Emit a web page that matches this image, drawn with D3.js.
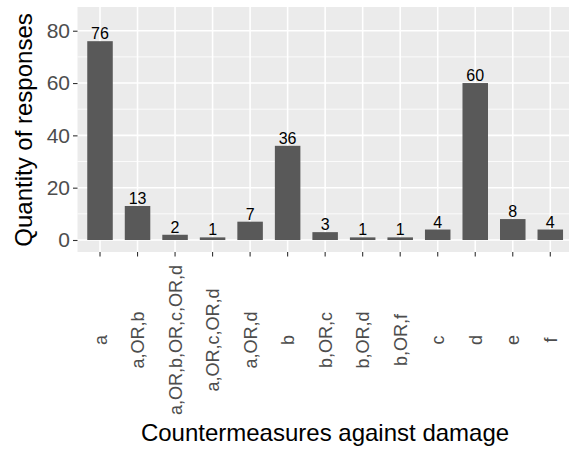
<!DOCTYPE html>
<html>
<head>
<meta charset="utf-8">
<script src="https://cdn.jsdelivr.net/npm/d3@7"></script>
<style>
  body { margin: 0; background: #fff; }
  svg { display: block; font-family: "Liberation Sans", Arial, sans-serif; }
</style>
</head>
<body>
<div id="chart"></div>
<script>
// Data
const categories = ["a", "a,OR,b", "a,OR,b,OR,c,OR,d", "a,OR,c,OR,d", "a,OR,d", "b",
  "b,OR,c", "b,OR,d", "b,OR,f", "c", "d", "e", "f"];
const counts = [76, 13, 2, 1, 7, 36, 3, 1, 1, 4, 60, 8, 4];
const yTicks = [0, 20, 40, 60, 80];
const yMinor = [10, 30, 50, 70];

const W = 569, H = 454;
// Panel box
const panel = { left: 77.5, right: 572.8, top: 7, bottom: 252 };

const svg = d3.select("#chart").append("svg")
  .attr("width", W)
  .attr("height", H);

// discrete axis with ggplot style 0.6 expansion
const x = d3.scaleLinear()
  .domain([0.4, categories.length + 0.6])
  .range([panel.left, panel.right]);

const y = d3.scaleLinear()
  .domain([-4.59, 89.07])
  .range([panel.bottom, panel.top]);

const barW = 0.68;

// panel background
svg.append("rect")
  .attr("x", panel.left)
  .attr("y", panel.top)
  .attr("width", panel.right - panel.left)
  .attr("height", panel.bottom - panel.top)
  .attr("fill", "#EBEBEB");

// grid lines
svg.append("g").selectAll("line.minor")
  .data(yMinor)
  .join("line")
  .attr("x1", panel.left).attr("x2", panel.right)
  .attr("y1", d => y(d)).attr("y2", d => y(d))
  .attr("stroke", "#fff").attr("stroke-width", 0.8);

svg.append("g").selectAll("line.major")
  .data(yTicks)
  .join("line")
  .attr("x1", panel.left).attr("x2", panel.right)
  .attr("y1", d => y(d)).attr("y2", d => y(d))
  .attr("stroke", "#fff").attr("stroke-width", 1.6);

svg.append("g").selectAll("line.vert")
  .data(categories)
  .join("line")
  .attr("x1", (d, i) => x(i + 1)).attr("x2", (d, i) => x(i + 1))
  .attr("y1", panel.top).attr("y2", panel.bottom)
  .attr("stroke", "#fff").attr("stroke-width", 1.6);

// bars
svg.append("g").selectAll("rect")
  .data(counts)
  .join("rect")
  .attr("x", (d, i) => x(i + 1 - barW / 2))
  .attr("width", (d, i) => x(i + 1 + barW / 2) - x(i + 1 - barW / 2))
  .attr("y", d => y(d))
  .attr("height", d => y(0) - y(d))
  .attr("fill", "#595959");

// value labels
svg.append("g").selectAll("text")
  .data(counts)
  .join("text")
  .attr("x", (d, i) => x(i + 1))
  .attr("y", d => y(d) - 2)
  .attr("text-anchor", "middle")
  .attr("font-size", 16)
  .attr("fill", "#000")
  .text(d => d);

// y axis
const yAxis = svg.append("g")
  .attr("transform", `translate(${panel.left},0)`)
  .call(d3.axisLeft(y).tickValues(yTicks).tickSize(4.5).tickPadding(3));
yAxis.select(".domain").remove();
yAxis.selectAll(".tick line").attr("stroke", "#333").attr("stroke-width", 1.1);
yAxis.selectAll(".tick text")
  .attr("font-size", 21)
  .attr("fill", "#4D4D4D")
  .attr("font-family", "Liberation Sans, Arial, sans-serif");

// x axis ticks
const xg = svg.append("g");
xg.selectAll("line")
  .data(categories)
  .join("line")
  .attr("x1", (d, i) => x(i + 1)).attr("x2", (d, i) => x(i + 1))
  .attr("y1", panel.bottom).attr("y2", panel.bottom + 4.5)
  .attr("stroke", "#333").attr("stroke-width", 1.1);

xg.selectAll("text")
  .data(categories)
  .join("text")
  .attr("transform", (d, i) => `translate(${x(i + 1) + 6.5},340) rotate(-90)`)
  .attr("text-anchor", "middle")
  .attr("font-size", 18)
  .attr("fill", "#4D4D4D")
  .text(d => d);

// axis titles
svg.append("text")
  .attr("transform", "translate(32,130) rotate(-90)")
  .attr("text-anchor", "middle")
  .attr("font-size", 24)
  .attr("fill", "#000")
  .text("Quantity of responses");

svg.append("text")
  .attr("x", 325)
  .attr("y", 441)
  .attr("text-anchor", "middle")
  .attr("font-size", 24)
  .attr("fill", "#000")
  .text("Countermeasures against damage");
</script>
</body>
</html>
